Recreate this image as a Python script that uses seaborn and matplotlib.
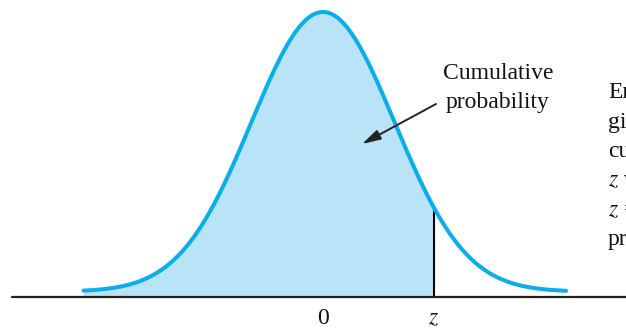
import numpy as np
import pandas as pd
import matplotlib
matplotlib.use("Agg")
import matplotlib.pyplot as plt
import seaborn as sns

sns.set_theme(style="white")
plt.rcParams['font.family'] = ['Liberation Serif', 'DejaVu Serif']
plt.rcParams['mathtext.fontset'] = 'stix'

# chart content
z_value = 1.55
x_limits = [-3.35, 3.40]
tail_lift = 0.0075          # curve ends sit slightly above the axis
tick_positions = [0.0, z_value]
tick_labels = ["0", "$z$"]
annotation_text = "Cumulative\nprobability"
side_lines = ["En", "gi", "cu", "$z$ v", "$z$ =", "pr"]

xs = np.linspace(x_limits[0], x_limits[1], 600)
pdf = tail_lift + np.exp(-xs**2 / 2) / np.sqrt(2 * np.pi) * (1 - tail_lift / 0.3989)
df = pd.DataFrame({"x": xs, "y": pdf})

W, H = 626, 332
fig = plt.figure(figsize=(W / 100, H / 100), dpi=100)
ax = fig.add_axes([0, 0, 1, 1])

sigma_px = 71.5
x0_px = 323
xl = (-x0_px / sigma_px, (W - x0_px) / sigma_px)
scale = 285 / pdf.max()
base = 35
yl = (-base / scale, (H - base) / scale)

curve_col = "#0AAEEA"
fill_col = "#B9E4F8"
shade = df[df.x <= z_value]
ax.fill_between(shade.x, 0, shade.y, color=fill_col, lw=0, zorder=1)
sns.lineplot(data=df, x="x", y="y", ax=ax, color=curve_col, lw=2.9, zorder=3)

zy = np.interp(z_value, df.x, df.y)
ax.plot([z_value, z_value], [0, zy], color="black", lw=1.5, zorder=2)
ax.axhline(0, xmin=12 / W, xmax=1, color="#222222", lw=1.6, zorder=4)

ax.set_xlim(*xl)
ax.set_ylim(*yl)
ax.axis("off")

def px2data(px, py):
    return (px - x0_px) / sigma_px, (H - py - base) / scale

fs = 17
for pos, lab in zip(tick_positions, tick_labels):
    tx, ty = px2data(x0_px + pos * sigma_px, 319)
    ax.text(pos, ty, lab, ha="center", va="center", fontsize=fs, color="#111111")

ax.annotate("", xy=px2data(362, 144), xytext=px2data(436, 104),
            arrowprops=dict(arrowstyle="-|>,head_length=0.8,head_width=0.22",
                            color="#222222", lw=1.4,
                            mutation_scale=14, shrinkA=0, shrinkB=0))
ax.text(*px2data(498, 88), annotation_text, ha="center", va="center",
        fontsize=fs, color="#111111", linespacing=1.5)

for i, line in enumerate(side_lines):
    ax.text(*px2data(608, 93 + i * 29.4), line, ha="left", va="center",
            fontsize=fs, color="#111111")

fig.savefig("out.png", dpi=100)
